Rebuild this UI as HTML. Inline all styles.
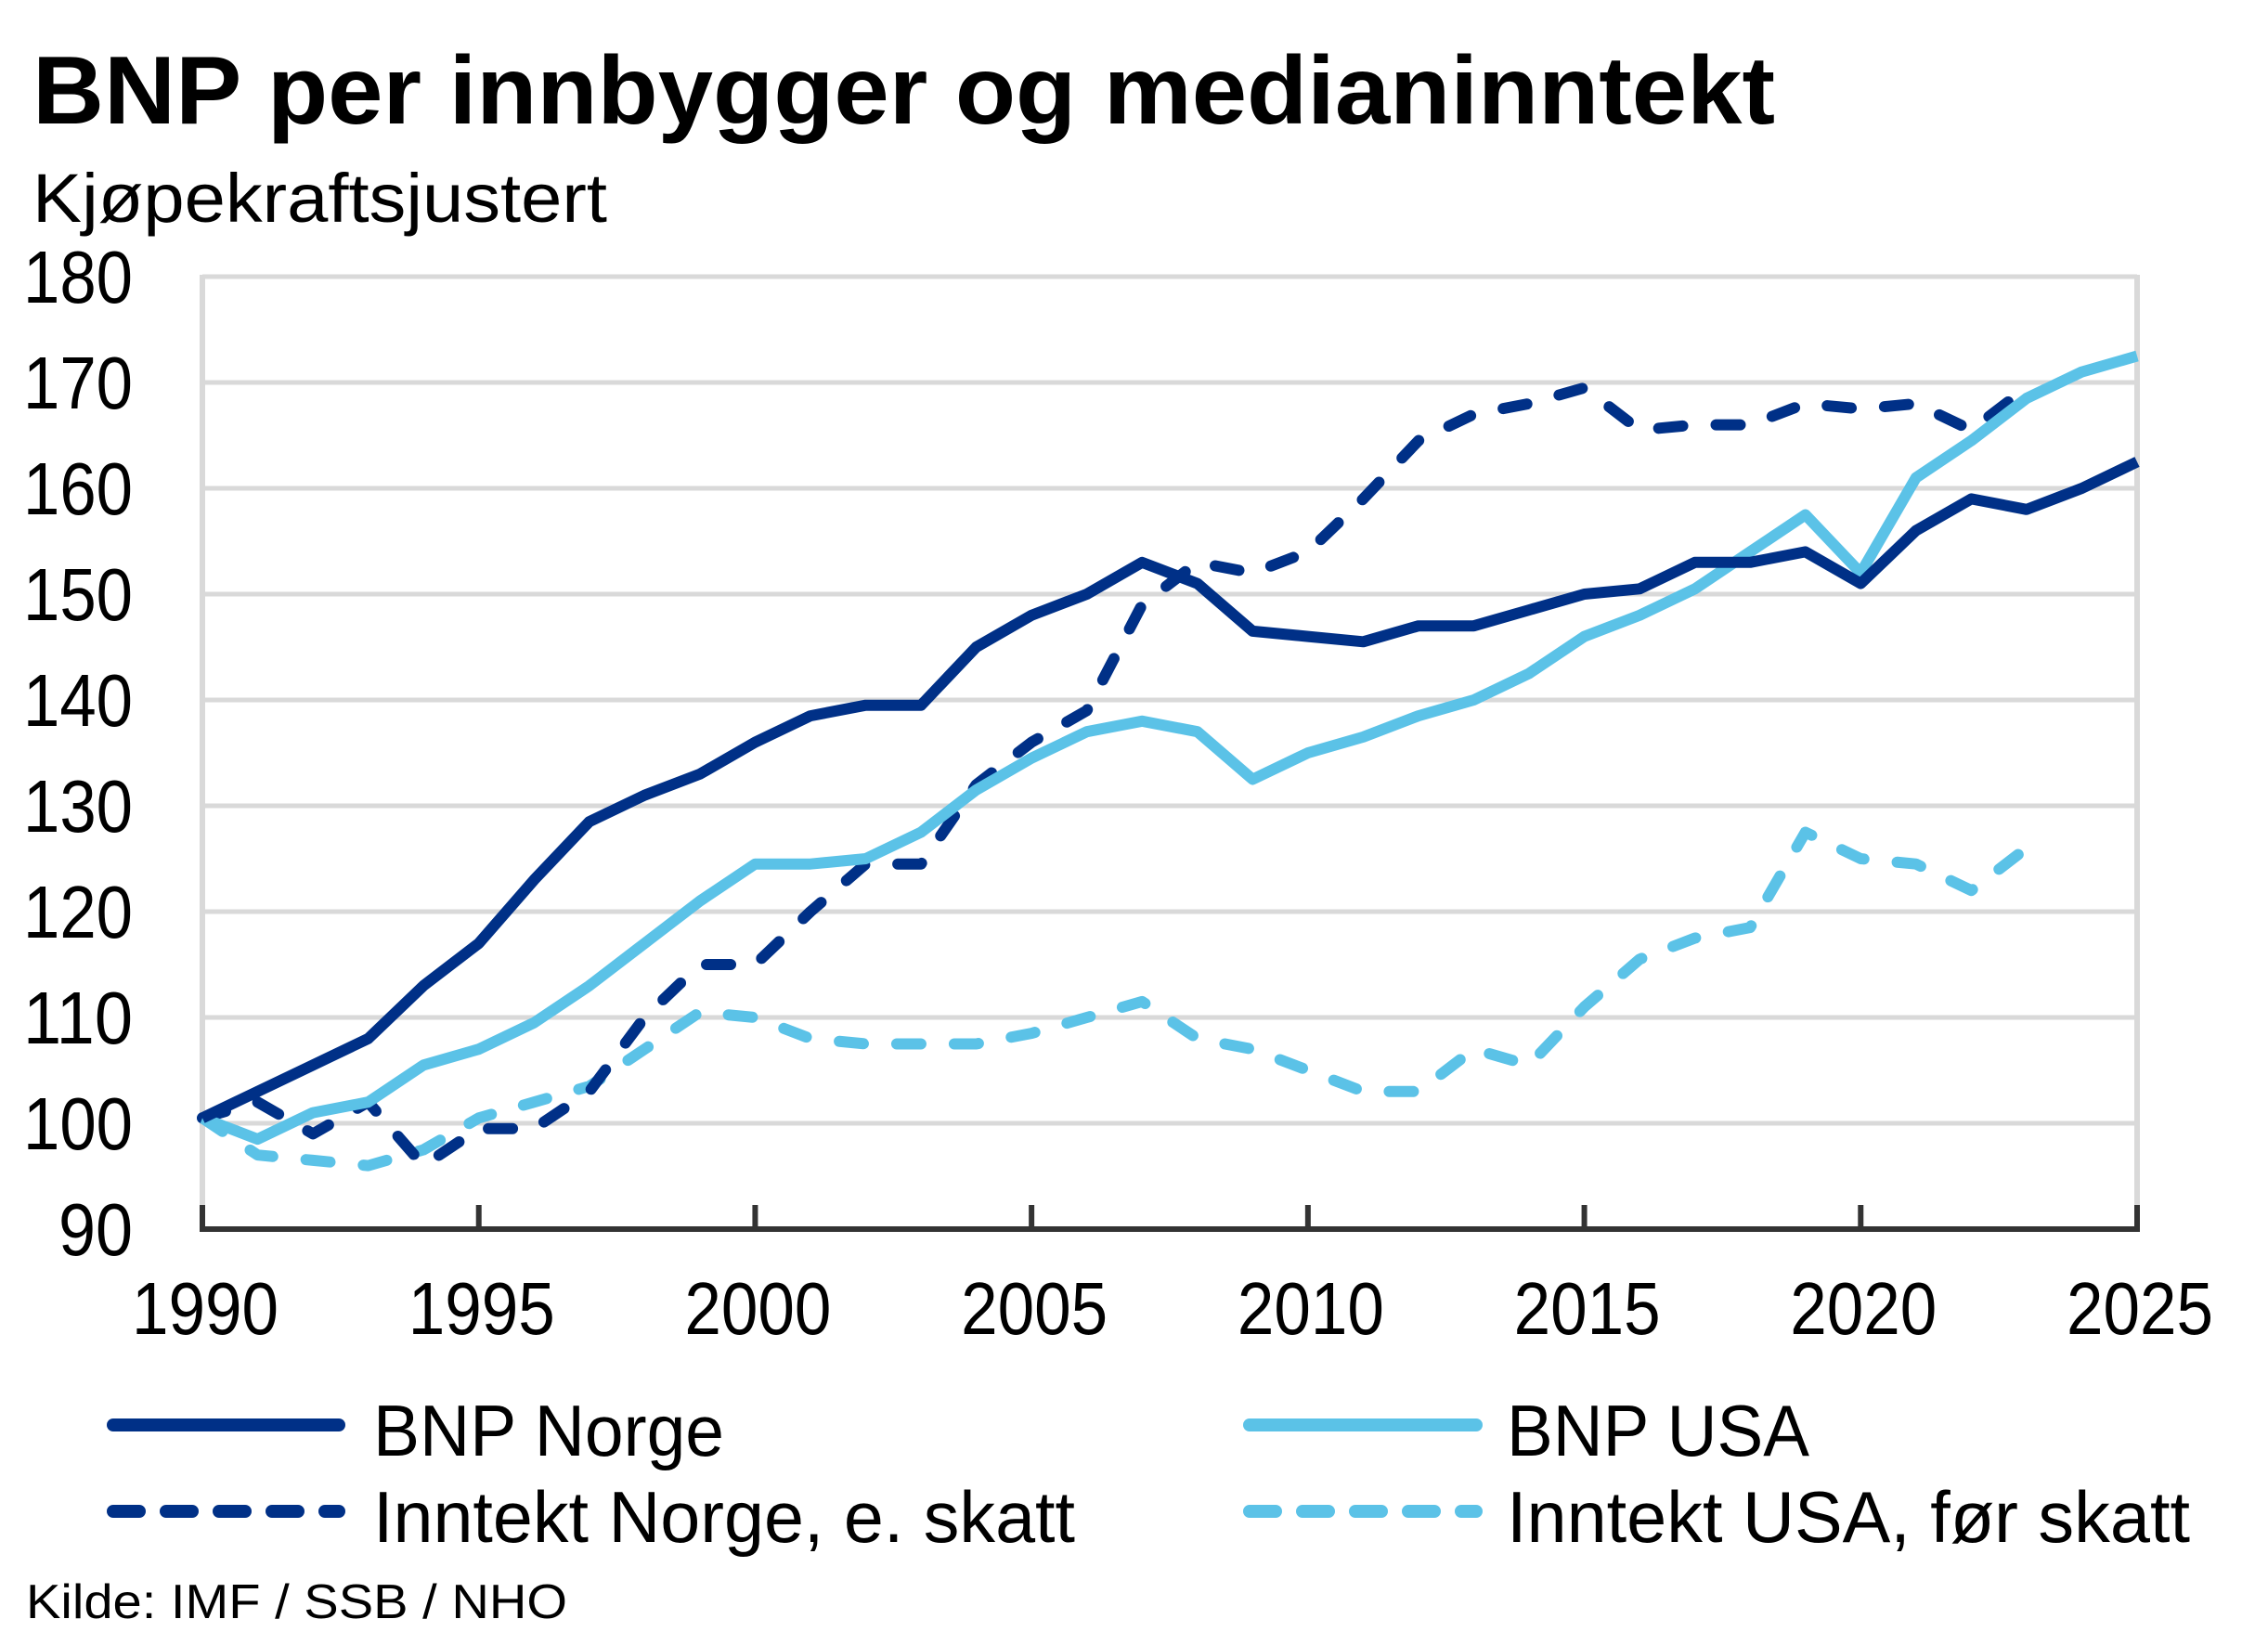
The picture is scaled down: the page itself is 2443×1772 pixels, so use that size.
<!DOCTYPE html>
<html><head><meta charset="utf-8">
<style>
html,body{margin:0;padding:0;background:#fff;}
svg{display:block;}
text{font-family:"Liberation Sans",sans-serif;fill:#000;}
</style></head>
<body>
<svg id="s" width="2443" height="1772" viewBox="0 0 2443 1772" xmlns="http://www.w3.org/2000/svg">
<rect width="2443" height="1772" fill="#fff"/>
<text x="35" y="133" font-size="104" font-weight="bold" textLength="1877" lengthAdjust="spacingAndGlyphs">BNP per innbygger og medianinntekt</text>
<text x="35" y="239" font-size="74" textLength="619" lengthAdjust="spacingAndGlyphs">Kjøpekraftsjustert</text>
<g id="grid"></g>
<g id="series"></g>
<g id="axes"></g>
<!-- legend -->
<line x1="122" y1="1535" x2="365" y2="1535" stroke="#003087" stroke-width="14" stroke-linecap="round"/>
<line x1="122" y1="1628" x2="365" y2="1628" stroke="#003087" stroke-width="14" stroke-linecap="round" stroke-dasharray="28 29"/>
<line x1="1346" y1="1535" x2="1590" y2="1535" stroke="#5bc2e7" stroke-width="14" stroke-linecap="round"/>
<line x1="1346" y1="1628" x2="1590" y2="1628" stroke="#5bc2e7" stroke-width="14" stroke-linecap="round" stroke-dasharray="28 29"/>
<text x="402" y="1568" font-size="78" textLength="378" lengthAdjust="spacingAndGlyphs">BNP Norge</text>
<text x="402" y="1661" font-size="78" textLength="756" lengthAdjust="spacingAndGlyphs">Inntekt Norge, e. skatt</text>
<text x="1623" y="1568" font-size="78" textLength="326" lengthAdjust="spacingAndGlyphs">BNP USA</text>
<text x="1623" y="1661" font-size="78" textLength="736" lengthAdjust="spacingAndGlyphs">Inntekt USA, før skatt</text>
<text x="28" y="1743" font-size="52" textLength="583" lengthAdjust="spacingAndGlyphs">Kilde: IMF / SSB / NHO</text>
</svg>
<script>
(function(){
var NS="http://www.w3.org/2000/svg";
var X0=218,X1=2302,Y0=298,YB=1324;
function X(yr){return X0+(yr-1990)*(X1-X0)/35;}
function Y(v){return Y0+(180-v)*(YB-Y0)/90;}
function el(p,t,a,txt){var e=document.createElementNS(NS,t);for(var k in a)e.setAttribute(k,a[k]);if(txt!=null)e.textContent=txt;p.appendChild(e);return e;}
var g=document.getElementById('grid'),s=document.getElementById('series'),ax=document.getElementById('axes');
for(var v=100;v<=180;v+=10){el(g,'line',{x1:X0,x2:X1,y1:Y(v),y2:Y(v),stroke:'#d9d9d9','stroke-width':5});}
el(g,'line',{x1:X0,x2:X0,y1:Y0-2,y2:YB,stroke:'#d9d9d9','stroke-width':6});
el(g,'line',{x1:X1,x2:X1,y1:Y0-2,y2:YB,stroke:'#d9d9d9','stroke-width':6});
for(var v=90;v<=180;v+=10){var w=v<100?80:118;el(ax,'text',{x:143,y:Y(v)+28,'font-size':80,'text-anchor':'end',textLength:w,lengthAdjust:'spacingAndGlyphs'},String(v));}
el(ax,'line',{x1:X0-3,x2:X1+3,y1:YB,y2:YB,stroke:'#333','stroke-width':6});
for(var yr=1990;yr<=2025;yr+=5){
 el(ax,'line',{x1:X(yr),x2:X(yr),y1:YB,y2:YB-26,stroke:'#333','stroke-width':6});
 el(ax,'text',{x:X(yr)+3,y:1437,'font-size':80,'text-anchor':'middle',textLength:158,lengthAdjust:'spacingAndGlyphs'},String(yr));
}
var bnpN=[100.5,103,105.5,108,113,117,123,128.5,131,133,136,138.5,139.5,139.5,145,148,150,153,151,146.5,146,145.5,147,147,148.5,150,150.5,153,153,154,151,156,159,158,160,162.5];
var bnpU=[100.5,98.5,101,102,105.5,107,109.5,113,117,121,124.5,124.5,125,127.5,131.5,134.5,137,138,137,132.5,135,136.5,138.5,140,142.5,146,148,150.5,154,157.5,152,161,164.5,168.5,171,172.5];
var innN=[100.5,102,99,102,96,99.5,99.5,103,110,115,115,120,124.5,124.5,132,136,139,149,153,152,154,159,164.5,167,168,169.5,165.5,166,166,168,167.5,168,165.5,169.5];
var innU=[100.5,97,96.5,96,97.5,100.5,102,103.5,107,110.5,110,108,107.5,107.5,107.5,108.5,110,111.5,108,107,105,103,103,107,105.5,111,115.5,117.5,118.5,127.5,125,124.5,122,126];
function pts(a){return a.map(function(v,i){return X(1990+i).toFixed(1)+','+Y(v).toFixed(1);}).join(' ');}
el(s,'polyline',{points:pts(innU),fill:'none',stroke:'#5bc2e7','stroke-width':12,'stroke-linecap':'round','stroke-linejoin':'round','stroke-dasharray':'26 36'});
el(s,'polyline',{points:pts(innN),fill:'none',stroke:'#003087','stroke-width':12,'stroke-linecap':'round','stroke-linejoin':'round','stroke-dasharray':'26 36'});
el(s,'polyline',{points:pts(bnpU),fill:'none',stroke:'#5bc2e7','stroke-width':12,'stroke-linejoin':'round'});
el(s,'polyline',{points:pts(bnpN),fill:'none',stroke:'#003087','stroke-width':12,'stroke-linejoin':'round'});
})();
</script>
</body></html>
